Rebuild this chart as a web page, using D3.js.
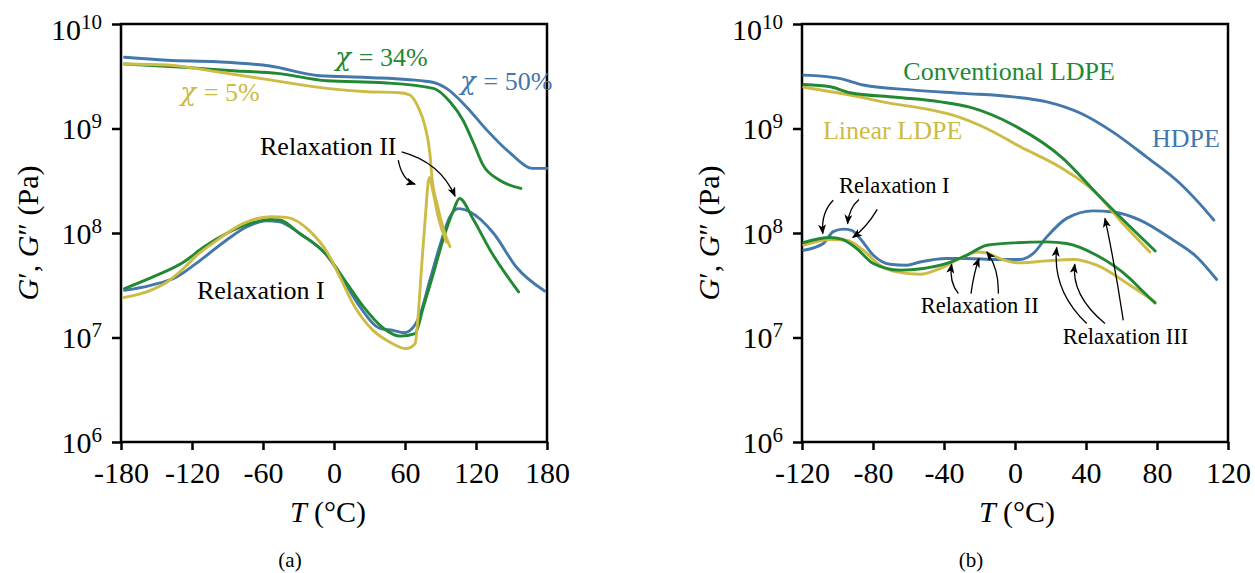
<!DOCTYPE html>
<html>
<head>
<meta charset="utf-8">
<script src="https://cdn.jsdelivr.net/npm/d3@7"></script>
<style>
  body { margin: 0; background: #fff; }
  svg text { font-family: "Liberation Serif", "DejaVu Serif", serif; }
  svg text.greek { font-family: "DejaVu Serif", serif; }
</style>
</head>
<body>
<svg id="chart" width="1255" height="573"></svg>
<script>
var blue = '#4477aa', green = '#228833', yellow = '#ccbb44';

// panel (a): moduli for three crystallinities, [T (°C), G (Pa)]
var aStorage50 = [[-177,4.8e9],[-141,4.5e9],[-99,4.35e9],[-54,3.96e9],[-12,3.2e9],[28,3.08e9],[81,2.8e9],[95,2.42e9],[112,1.61e9],[129,9.7e8],[149,5.8e8],[168,4.15e8],[180,4.15e8]];
var aStorage34 = [[-177,4.14e9],[-127,3.85e9],[-85,3.57e9],[-48,3.37e9],[-6,2.86e9],[42,2.74e9],[84,2.42e9],[98,1.8e9],[109,1.2e9],[118,7.2e8],[126,4.46e8],[140,3.2e8],[158,2.67e8]];
var aStorage5 = [[-177,4.14e9],[-141,4.05e9],[-99,3.49e9],[-57,2.95e9],[-6,2.42e9],[28,2.25e9],[56,2.2e9],[64,2.09e9],[71,1.61e9],[77,1.04e9],[81,5.8e8],[83,3.2e8],[87,1.92e8],[92,1.14e8],[98,7.4e7]];
var aLoss50 = [[-177,2.83e7],[-155,3.16e7],[-133,3.8e7],[-113,5.48e7],[-91,8.53e7],[-74,1.14e8],[-57,1.31e8],[-46,1.28e8],[-29,9.9e7],[-6,6.12e7],[8,3.53e7],[22,1.96e7],[39,1.22e7],[50,1.17e7],[59,1.11e7],[66,1.22e7],[73,1.69e7],[81,3.53e7],[90,7.9e7],[98,1.43e8],[105,1.71e8],[115,1.59e8],[135,9.9e7],[154,4.73e7],[178,2.79e7]];
var aLoss34 = [[-177,2.94e7],[-153,3.8e7],[-127,5.28e7],[-110,7.36e7],[-91,9.9e7],[-71,1.23e8],[-54,1.35e8],[-46,1.33e8],[-29,9.9e7],[-6,6.12e7],[11,3.28e7],[25,1.96e7],[42,1.22e7],[56,1.03e7],[68.5,1.09e7],[75.5,1.96e7],[84,4.09e7],[92,8.53e7],[101,1.65e8],[106,2.14e8],[118,1.33e8],[132,6.84e7],[156,2.73e7]];
var aLoss5 = [[-178,2.41e7],[-155,2.83e7],[-141,3.4e7],[-127,4.6e7],[-116,6.1e7],[-99,8.5e7],[-77,1.23e8],[-54,1.43e8],[-40,1.41e8],[-20,1.03e8],[-6,6.6e7],[5,3.8e7],[16,2.11e7],[33,1.17e7],[47,9.06e6],[61,7.83e6],[68.5,8.7e6],[71,1.57e7],[74,4.7e7],[77,1.33e8],[80.5,3.4e8],[84,2.39e8],[88,1.43e8],[95,8.2e7]];

// panel (b): moduli for three polyethylenes
var bStorageHDPE = [[-119,3.24e9],[-99,3.02e9],[-85.5,2.61e9],[-57,2.33e9],[-29,2.17e9],[-1,2.01e9],[18,1.8e9],[37,1.4e9],[55,9.29e8],[74,5.36e8],[93,2.98e8],[104,1.91e8],[112,1.33e8]];
var bStorageConv = [[-119,2.64e9],[-104,2.51e9],[-93,2.2e9],[-67,1.99e9],[-42,1.8e9],[-25,1.59e9],[-1,1.08e9],[27,5.18e8],[46,2.39e8],[61,1.33e8],[79,6.73e7]];
var bStorageLinear = [[-119,2.48e9],[-93,2.09e9],[-70,1.74e9],[-52,1.56e9],[-35,1.34e9],[-16,1.0e9],[3,6.68e8],[25,4.3e8],[46,2.39e8],[59,1.33e8],[76,6.59e7]];
var bLossHDPE = [[-119,6.84e7],[-108,7.93e7],[-102.4,1.03e8],[-96.7,1.09e8],[-92,1.06e8],[-87.3,8.85e7],[-79.8,6.12e7],[-70.4,5.02e7],[-61,4.92e7],[-53.5,5.28e7],[-38.5,5.7e7],[-27.2,5.7e7],[-10.3,5.57e7],[2.8,5.57e7],[10.3,6.37e7],[17.9,9.18e7],[29.1,1.38e8],[44.1,1.63e8],[55.4,1.59e8],[70.4,1.33e8],[89.2,8.53e7],[102.4,5.9e7],[113.6,3.59e7]];
var bLossConv = [[-119,8.11e7],[-104.2,9.06e7],[-97.6,8.73e7],[-89.2,7.1e7],[-79.8,5.11e7],[-64.8,4.41e7],[-51.7,4.57e7],[-38.5,5.11e7],[-27.2,6.12e7],[-15.9,7.64e7],[-0.9,8.04e7],[17.9,8.22e7],[29.1,7.93e7],[46,6.12e7],[64.8,3.66e7],[70.4,2.94e7],[78.9,2.14e7]];
var bLossLinear = [[-119,7.64e7],[-104.2,8.67e7],[-94.8,8.53e7],[-85.5,6.84e7],[-76.1,4.92e7],[-66.6,4.25e7],[-53.5,4.03e7],[-42.3,4.57e7],[-31,5.7e7],[-21.6,6.59e7],[-15.9,6.44e7],[-8.5,5.7e7],[2.8,5.18e7],[17.9,5.41e7],[32.9,5.57e7],[46,4.92e7],[64.8,3.16e7],[78.9,2.19e7]];

// tick values
var aTicksT = [-180, -120, -60, 0, 60, 120, 180];
var bTicksT = [-120, -80, -40, 0, 40, 80, 120];
var ticksG = [1e6, 1e7, 1e8, 1e9, 1e10];

// annotations: text anchored at [T, G]; arrows are [start, control, end] in [T, G]
var aLabels = [
  {pre: 'χ', text: '= 34%', at: [1, 3.96e9], color: green},
  {pre: 'χ', text: '= 50%', at: [106.5, 2.33e9], color: blue},
  {pre: 'χ', text: '= 5%', at: [-130, 1.83e9], color: yellow},
  {text: 'Relaxation II', at: [-62.5, 5.56e8], color: '#000'},
  {text: 'Relaxation I', at: [-115.8, 2.32e7], color: '#000'}
];
var aArrows = [
  [[54.3, 4.98e8], [57.5, 3.21e8], [68.5, 2.93e8]],
  [[57.2, 5.98e8], [89.6, 4.76e8], [102.3, 2.25e8]]
];
var bLabels = [
  {text: 'Conventional LDPE', at: [-62.9, 2.91e9], color: green},
  {text: 'Linear LDPE', at: [-108.2, 7.9e8], color: yellow},
  {text: 'HDPE', at: [77.2, 6.64e8], color: blue},
  {text: 'Relaxation I', at: [-99.2, 2.4e8], color: '#000', small: true},
  {text: 'Relaxation II', at: [-53.1, 1.71e7], color: '#000', small: true},
  {text: 'Relaxation III', at: [26.9, 8.61e6], color: '#000', small: true}
];
var bArrows = [
  [[-102.4, 2.06e8], [-109.3, 1.58e8], [-108.3, 9.9e7]],
  [[-87.9, 2.09e8], [-93.5, 1.73e8], [-94.3, 1.23e8]],
  [[-77.6, 1.68e8], [-83.9, 1.11e8], [-91.4, 9.06e7]],
  [[-31.9, 2.63e7], [-37.2, 3.38e7], [-35.7, 5.02e7]],
  [[-24.8, 2.63e7], [-23.1, 4.22e7], [-20.3, 5.7e7]],
  [[-9.4, 2.63e7], [-9.0, 4.6e7], [-15.9, 6.59e7]],
  [[40.4, 1.36e7], [20.8, 2.83e7], [23.5, 7.26e7]],
  [[50.7, 1.36e7], [31.5, 2.54e7], [33.7, 5.02e7]],
  [[61.0, 1.46e7], [56.3, 4.92e7], [50.7, 1.38e8]]
];

var svg = d3.select('#chart');

// arrowhead shared by all annotation arrows
svg.append('defs').append('marker')
  .attr('id', 'head')
  .attr('viewBox', '0 0 10 8')
  .attr('refX', 9).attr('refY', 4)
  .attr('markerUnits', 'userSpaceOnUse')
  .attr('markerWidth', 10).attr('markerHeight', 8)
  .attr('orient', 'auto')
  .append('path').attr('d', 'M0,0 L10,4 L0,8 L2.5,4 Z').attr('fill', '#000');

function drawPanel(p) {
  var x = d3.scaleLinear().domain(p.domain).range([p.left, p.right]);
  var y = d3.scaleLog().domain([1e6, 1e10]).range([p.bottom, p.top]);
  var g = svg.append('g');

  // x axis, with plain hyphens for negative numbers
  var xAxis = g.append('g')
    .attr('transform', 'translate(0,' + p.bottom + ')')
    .attr('font-family', null).attr('font-size', null)
    .call(d3.axisBottom(x).tickValues(p.ticks).tickSize(8)
      .tickFormat(function(d) { return d < 0 ? '-' + (-d) : String(d); }));
  xAxis.select('.domain').remove();
  xAxis.selectAll('line').attr('stroke-width', 2.5);
  xAxis.selectAll('text')
    .attr('y', 41).attr('dy', null)
    .attr('font-size', 30).attr('fill', '#000');

  // y axis, 10^n labels built from tspans; the top one sits a little lower
  var yAxis = g.append('g')
    .attr('transform', 'translate(' + p.left + ',0)')
    .attr('font-family', null).attr('font-size', null)
    .call(d3.axisLeft(y).tickValues(ticksG).tickSize(9).tickFormat(''));
  yAxis.select('.domain').remove();
  yAxis.selectAll('line').attr('stroke-width', 2.5);
  yAxis.selectAll('.tick text').each(function(d) {
    var t = d3.select(this)
      .attr('x', -19).attr('y', d === 1e10 ? 15 : 10).attr('dy', null)
      .attr('font-size', 30).attr('fill', '#000').attr('text-anchor', 'end');
    t.text(null);
    t.append('tspan').text('10');
    t.append('tspan').attr('font-size', 21).attr('dy', -11).text(Math.round(Math.log10(d)));
  });

  // frame around the plot
  g.append('rect')
    .attr('x', p.left).attr('y', p.top)
    .attr('width', p.right - p.left).attr('height', p.bottom - p.top)
    .attr('fill', 'none').attr('stroke', '#000').attr('stroke-width', 2.5);

  var line = d3.line()
    .x(function(d) { return x(d[0]); })
    .y(function(d) { return y(d[1]); })
    .curve(d3.curveMonotoneX);

  p.series.forEach(function(s) {
    g.append('path').datum(s.data)
      .attr('d', line)
      .attr('fill', 'none')
      .attr('stroke', s.color)
      .attr('stroke-width', 2.9)
      .attr('stroke-linejoin', 'round')
      .attr('stroke-linecap', 'round');
  });

  // labels; the greek prefix is its own text element so the rest keeps the serif font
  p.labels.forEach(function(l) {
    var size = l.small ? 22.5 : 26;
    var tx = x(l.at[0]), ty = y(l.at[1]);
    if (l.pre) {
      var pre = g.append('text').attr('class', 'greek')
        .attr('x', tx).attr('y', ty)
        .attr('font-size', size).attr('font-style', 'italic')
        .attr('fill', l.color).text(l.pre);
      tx += pre.node().getComputedTextLength() + size * 0.3;
    }
    g.append('text')
      .attr('x', tx).attr('y', ty)
      .attr('font-size', size)
      .attr('fill', l.color)
      .text(l.text);
  });

  p.arrows.forEach(function(a) {
    var pts = a.map(function(d) { return [x(d[0]), y(d[1])]; });
    g.append('path')
      .attr('d', 'M' + pts[0] + 'Q' + pts[1] + ' ' + pts[2])
      .attr('fill', 'none').attr('stroke', '#000').attr('stroke-width', 1.3)
      .attr('marker-end', 'url(#head)');
  });

  // axis titles
  var yl = g.append('text')
    .attr('transform', 'translate(' + (p.left - 83) + ',' + ((p.top + p.bottom) / 2) + ') rotate(-90)')
    .attr('text-anchor', 'middle').attr('font-size', 30);
  yl.append('tspan').attr('font-style', 'italic').text('G');
  yl.append('tspan').text('′, ');
  yl.append('tspan').attr('font-style', 'italic').text('G');
  yl.append('tspan').text('″ (Pa)');

  var xl = g.append('text')
    .attr('x', (p.left + p.right) / 2 + p.xlabelShift).attr('y', 522)
    .attr('text-anchor', 'middle').attr('font-size', 30);
  xl.append('tspan').attr('font-style', 'italic').text('T');
  xl.append('tspan').text(' (°C)');

  g.append('text')
    .attr('x', p.captionX).attr('y', 567)
    .attr('text-anchor', 'middle').attr('font-size', 21)
    .text(p.caption);
}

drawPanel({
  left: 121, right: 547, top: 24, bottom: 442,
  domain: [-180, 180], ticks: aTicksT,
  series: [
    {data: aStorage50, color: blue}, {data: aLoss50, color: blue},
    {data: aStorage34, color: green}, {data: aLoss34, color: green},
    {data: aStorage5, color: yellow}, {data: aLoss5, color: yellow}
  ],
  labels: aLabels, arrows: aArrows,
  xlabelShift: -6, caption: '(a)', captionX: 290
});

drawPanel({
  left: 802, right: 1228, top: 24, bottom: 442,
  domain: [-120, 120], ticks: bTicksT,
  series: [
    {data: bStorageHDPE, color: blue}, {data: bLossHDPE, color: blue},
    {data: bStorageLinear, color: yellow}, {data: bLossLinear, color: yellow},
    {data: bStorageConv, color: green}, {data: bLossConv, color: green}
  ],
  labels: bLabels, arrows: bArrows,
  xlabelShift: 2, caption: '(b)', captionX: 971
});
</script>
</body>
</html>
